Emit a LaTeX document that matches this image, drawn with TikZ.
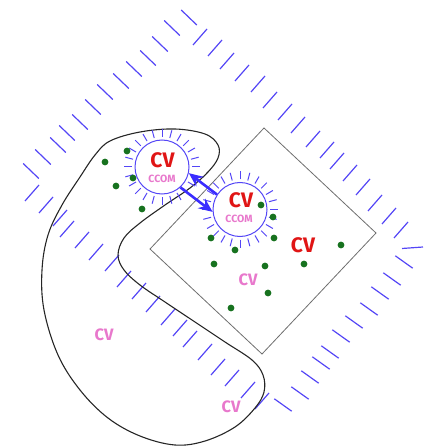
\documentclass[tikz,border=0pt]{standalone}
\usepackage{fontspec}
\setmainfont{Fira Sans}
\usetikzlibrary{arrows.meta,calc}
\definecolor{tickblue}{HTML}{5446F6}
\definecolor{arrblue}{HTML}{3A2CFF}
\definecolor{cvred}{HTML}{E01515}
\definecolor{cvpink}{HTML}{E878CC}
\definecolor{dotgreen}{HTML}{17721F}
\definecolor{diamgray}{HTML}{6E6E6E}
\tikzset{
  otick/.style={draw=tickblue, line width=1.2pt},
  ctick/.style={draw=tickblue, line width=1pt},
  cvcircle/.style={circle, draw=tickblue, line width=1pt, minimum size=54pt, inner sep=0pt},
  redcv/.style={text=cvred, font=\fontsize{21}{21}\selectfont\bfseries, inner sep=0pt},
  pinkcv/.style={text=cvpink, font=\fontsize{16.5}{16.5}\selectfont\bfseries, inner sep=0pt},
  ccom/.style={text=cvpink, font=\fontsize{10.5}{10.5}\selectfont\bfseries, inner sep=0pt},
  gdot/.style={fill=dotgreen},
  link/.style={draw=arrblue, line width=2.6pt, -{Stealth[length=14pt,width=12pt]}},
  blob/.style={draw=black!85, line width=1.1pt},
  diam/.style={draw=diamgray, line width=0.8pt}
}
\begin{document}
\begin{tikzpicture}[x=1pt,y=-1pt]
\useasboundingbox (0,0) rectangle (430,446);
% outer hatch: top-left edge
\foreach \x/\y in {189/17.5,172/28,160/44,148/58,134/69,121/81,105/92,93/107,80/122,67/133,58/145,43/157,31/171}
  \draw[otick] (\x,\y) ++(-7.8,-7.5) -- ++(15.6,15);
% top-right edge
\foreach \x/\y in {200/37,215/48,227/61,242/73,258/84,270/100,285/112,298/125,313/139,327/150,337/161,350/173,363/187,375/203,389/216,401/230}
  \draw[otick] (\x,\y) ++(-7,8) -- ++(14,-16);
% right corner
\draw[otick] (402,248.5) -- (423,247);
% lower-right edge
\foreach \x/\y in {404/262,392/279,380/293,369/309,354/322,341/336,330/352,321/363,310/377,300/393,283/405}
  \draw[otick] (\x,\y) ++(-8.7,-6.2) -- ++(17.4,12.4);
% lower-left edge
\foreach \x/\y in {32/193,46/205,60/218,67/229,82/240,96/252,112/263,124/279,139/291,153/304,168/317,180/328,190/339,205/352,218/367,232/378,248/390,262/401}
  \draw[otick] (\x,\y) ++(-7,8) -- ++(14,-16);
% inner diamond
\draw[diam] (264,128) -- (376,233) -- (262,354) -- (150,249) -- cycle;
% black blob
\draw[blob] plot[smooth cycle, tension=0.6] coordinates {
 (110,141) (140,132) (175,129) (205,134) (218,145) (218,158) (208,172)
 (190,188) (165,205) (140,223) (124,238) (118,255) (124,270) (140,285)
 (165,302) (195,322) (225,342) (252,360) (263,375) (264,392) (255,408)
 (235,427) (205,441) (175,445) (140,436) (108,418) (80,390) (58,355)
 (44,310) (42,270) (48,235) (62,205) (80,177) (95,155)};
% circles
\node[cvcircle] (c1) at (162,167) {};
\node[cvcircle] (c2) at (240,209.5) {};
\foreach \a in {0,15,...,345}{
  \draw[ctick] ($(c1)+(\a:30)$) -- ($(c1)+(\a:38)$);
  \draw[ctick] ($(c2)+(\a:30)$) -- ($(c2)+(\a:38)$);
}
\node[redcv] (t1) at (162.5,160.5) {CV};
\node[ccom] (s1) at (162,179) {CCOM};
\node[redcv] (t2) at (241,200) {CV};
\node[ccom] (s2) at (239,219) {CCOM};
% arrows
\draw[link] (c2.147) -- (c1.-13);
\draw[link] (c1.-48) -- (c2.185);
% dots
\foreach \x/\y in {127/151,105/162,133/178,116/186,142/209,261/205,273/217,274/238,211/238,235/250,341/245,214/264,265/266,304/264,268/293,231/308}
  \fill[gdot] (\x,\y) circle (3.4pt);
% labels
\node[redcv] (t3) at (303,245) {CV};
\node[pinkcv] (p1) at (248,280) {CV};
\node[pinkcv] (p2) at (104,335) {CV};
\node[pinkcv] (p3) at (231,407) {CV};
\end{tikzpicture}
\end{document}
